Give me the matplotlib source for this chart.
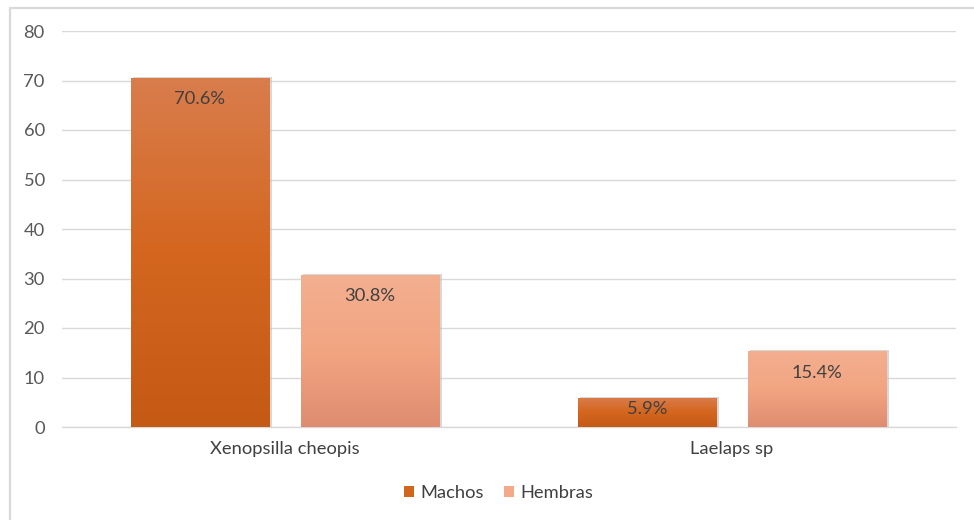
import matplotlib
matplotlib.use("Agg")
import matplotlib.pyplot as plt
import numpy as np
from matplotlib.patches import Rectangle, Patch
from matplotlib.colors import LinearSegmentedColormap

categories = ["Xenopsilla cheopis", "Laelaps sp"]
series_names = ["Machos", "Hembras"]
machos = [70.6, 5.9]
hembras = [30.8, 15.4]
yticks = [0, 10, 20, 30, 40, 50, 60, 70, 80]

plt.rcParams['font.family'] = ['Lato', 'DejaVu Sans']
FS = 13.2

fig = plt.figure(figsize=(9.74, 5.2), dpi=100)
ax = fig.add_axes([61.5/974, 1-427/520, (955.5-61.5)/974, (427-31)/520])

# outer border
fig.patches.append(Rectangle((10/974, -0.05), 1.0, 1-8/520+0.05, transform=fig.transFigure,
                             fill=False, edgecolor='#D9D9D9', linewidth=1.6, zorder=0))

ax.set_xlim(-0.5, 1.5)
ax.set_ylim(0, 80)
ax.set_yticks(yticks)
ax.yaxis.grid(True, color='#D9D9D9', linewidth=1.0)
ax.set_axisbelow(True)
for s in ['top', 'right', 'left']:
    ax.spines[s].set_visible(False)
ax.spines['bottom'].set_color('#D9D9D9')
ax.spines['bottom'].set_linewidth(1.0)
ax.tick_params(axis='y', length=0, pad=12, labelsize=FS, labelcolor='#595959')
ax.tick_params(axis='x', length=0, pad=10, labelsize=FS, labelcolor='#404040')
ax.set_xticks(range(len(categories)))
ax.set_xticklabels(categories)

width = 0.309
gap = 0.0716
offsets = [-(width + gap) / 2, (width + gap) / 2]
cmaps = [
    LinearSegmentedColormap.from_list('m', ['#C55A15', '#D4661F', '#D97D4D']),
    LinearSegmentedColormap.from_list('h', ['#DF8C70', '#F3A582', '#F2AF90']),
]
grad = np.linspace(0, 1, 256).reshape(-1, 1)

for si, vals in enumerate([machos, hembras]):
    for ci, v in enumerate(vals):
        x0 = ci + offsets[si] - width / 2
        # shadow
        sh = Rectangle((x0 + 0.004, 0), width + 0.002, v + 0.15, facecolor='#BFBFBF',
                       edgecolor='none', alpha=0.6, zorder=2)
        ax.add_patch(sh)
        rect = Rectangle((x0, 0), width, v, facecolor='none', edgecolor='none', zorder=3)
        ax.add_patch(rect)
        im = ax.imshow(grad, cmap=cmaps[si], aspect='auto', origin='lower',
                       extent=(x0, x0 + width, 0, v), zorder=3)
        im.set_clip_path(rect)
        ly = v - 4.4 if v > 9 else v * 0.6
        ax.text(ci + offsets[si], ly, f"{v}%", ha='center', va='center',
                fontsize=FS, color='#404040', zorder=4)

ax.set_xlim(-0.5, 1.5)
ax.set_ylim(0, 80)

handles = [Patch(facecolor='#D2661F', edgecolor='none'),
           Patch(facecolor='#F3A98A', edgecolor='none')]
fig.legend(handles, series_names, loc='center', bbox_to_anchor=(0.512, 1-493/520),
           ncol=2, frameon=False, fontsize=FS, handlelength=0.55, handleheight=0.55,
           handletextpad=0.35, columnspacing=1.1, labelcolor='#404040')

fig.savefig("out.png", dpi=100)
